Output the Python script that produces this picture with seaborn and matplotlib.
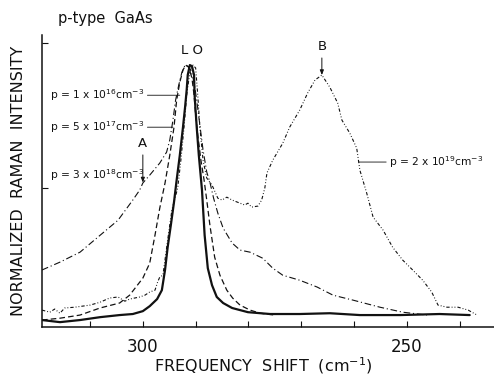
import matplotlib
matplotlib.use("Agg")
import matplotlib.pyplot as plt
import seaborn as sns
import numpy as np

# ---------------- data ----------------
# Raman shift (cm^-1) and normalized intensity for each hole concentration
p16_shift = [319.1, 315.7, 311.9, 308.1, 304.4, 301.9, 300.0, 298.7, 297.3, 296.4,
             295.8, 295.3, 294.7, 294.1, 293.6, 293.0, 292.4, 292.0, 291.7, 291.5,
             291.1, 290.7, 290.3, 290.2, 289.8, 289.4, 288.8, 288.3, 287.7, 286.9,
             286.0, 284.8, 283.1, 280.1, 275.9, 270.3, 264.6, 258.9, 251.3, 243.8, 238.1]
p16_int = [0.027, 0.019, 0.027, 0.038, 0.046, 0.050, 0.061, 0.080, 0.107, 0.141,
           0.218, 0.305, 0.389, 0.477, 0.561, 0.656, 0.763, 0.840, 0.905, 0.962,
           1.000, 0.996, 0.962, 0.885, 0.763, 0.656, 0.523, 0.351, 0.225, 0.160,
           0.115, 0.092, 0.073, 0.057, 0.050, 0.050, 0.053, 0.046, 0.046, 0.050, 0.046]

p17_shift = [319.1, 315.7, 311.9, 308.1, 304.4, 302.5, 300.0, 298.7, 297.7, 296.8,
             295.8, 294.9, 294.1, 293.6, 293.0, 292.4, 291.9, 291.3, 290.7, 290.3,
             290.0, 289.6, 289.0, 288.4, 287.9, 287.3, 286.4, 285.4, 284.1, 283.0,
             281.6, 279.7, 277.8, 275.0]
p17_int = [0.027, 0.034, 0.046, 0.073, 0.092, 0.122, 0.187, 0.244, 0.351, 0.454,
           0.550, 0.656, 0.763, 0.866, 0.935, 0.981, 1.000, 0.992, 0.950, 0.885,
           0.809, 0.733, 0.637, 0.561, 0.485, 0.389, 0.267, 0.198, 0.141, 0.111,
           0.084, 0.065, 0.053, 0.046]

p18_shift = [319.1, 315.7, 311.9, 307.6, 304.7, 301.9, 300.6, 300.0, 298.7, 296.8,
             295.5, 294.9, 294.3, 293.8, 293.2, 292.6, 292.0, 291.5, 290.9, 290.3,
             289.8, 289.2, 288.6, 287.9, 287.3, 286.6, 285.8, 284.8, 283.1, 281.6,
             279.7, 277.3, 275.4, 273.5, 270.3, 267.0, 264.0, 260.2, 255.1, 250.8, 246.2]
p18_int = [0.218, 0.248, 0.286, 0.359, 0.408, 0.485, 0.523, 0.550, 0.580, 0.626,
           0.668, 0.714, 0.790, 0.866, 0.924, 0.973, 1.000, 0.996, 0.981, 0.935,
           0.866, 0.771, 0.676, 0.592, 0.553, 0.492, 0.435, 0.378, 0.321, 0.294,
           0.286, 0.263, 0.225, 0.198, 0.179, 0.153, 0.122, 0.103, 0.076, 0.057, 0.046]

p19_shift = [319.1, 317.6, 316.7, 315.7, 314.8, 312.9, 310.0, 308.1, 307.2, 306.3,
             304.7, 303.4, 302.5, 300.6, 299.6, 298.7, 297.7, 297.2, 296.8, 296.2,
             295.3, 294.5, 293.4, 292.8, 292.2, 291.7, 291.1, 290.5, 290.0, 289.6,
             289.2, 288.6, 287.9, 286.9, 285.8, 285.0, 284.1, 283.1, 281.6, 280.7,
             280.1, 279.4, 278.2, 277.5, 276.9, 276.5, 275.4, 273.5, 272.2, 270.3,
             268.8, 267.4, 266.1, 264.6, 263.1, 262.3, 260.8, 259.5, 258.9, 257.6,
             256.4, 254.5, 252.7, 250.8, 248.9, 247.0, 245.3, 244.1, 242.4, 240.3,
             238.4, 236.7]
p19_int = [0.065, 0.057, 0.069, 0.053, 0.073, 0.076, 0.084, 0.095, 0.103, 0.111,
           0.115, 0.099, 0.107, 0.115, 0.122, 0.134, 0.141, 0.172, 0.191, 0.198,
           0.332, 0.447, 0.531, 0.637, 0.763, 0.885, 0.973, 1.000, 0.989, 0.885,
           0.763, 0.637, 0.569, 0.542, 0.492, 0.485, 0.496, 0.485, 0.473, 0.466,
           0.473, 0.458, 0.462, 0.485, 0.531, 0.588, 0.637, 0.702, 0.763, 0.828,
           0.893, 0.943, 0.962, 0.916, 0.855, 0.790, 0.740, 0.683, 0.599, 0.511,
           0.420, 0.370, 0.305, 0.256, 0.218, 0.179, 0.134, 0.084, 0.076, 0.076,
           0.065, 0.046]

labels = [r"p = 1 x 10$^{16}$cm$^{-3}$", r"p = 5 x 10$^{17}$cm$^{-3}$",
          r"p = 3 x 10$^{18}$cm$^{-3}$", r"p = 2 x 10$^{19}$cm$^{-3}$"]
major_ticks = [300, 250]
minor_ticks = [310, 290, 280, 270, 260, 240]
tick_labels = ["300", "250"]

# ---------------- figure ----------------
sns.set_theme(style="ticks")
plt.rcParams["font.family"] = ["DejaVu Sans"]

fig = plt.figure(figsize=(4.94, 3.76), dpi=100)
ax = fig.add_axes([0.085, 0.130, 0.915, 0.777])

ink = "#111111"
sns.lineplot(x=p16_shift, y=p16_int, ax=ax, color=ink, linewidth=1.6,
             sort=False, estimator=None)
sns.lineplot(x=p17_shift, y=p17_int, ax=ax, color=ink, linewidth=0.9,
             linestyle=(0, (4.5, 2.5)), sort=False, estimator=None)
sns.lineplot(x=p18_shift, y=p18_int, ax=ax, color=ink, linewidth=0.8,
             linestyle=(0, (6, 2.5, 1, 2.5)), sort=False, estimator=None)
sns.lineplot(x=p19_shift, y=p19_int, ax=ax, color=ink, linewidth=0.8,
             linestyle=(0, (3, 1.8, 0.8, 1.8, 0.8, 1.8)), sort=False, estimator=None)

ax.set_xlim(319.1, 233.5)
ax.set_ylim(0, 1.115)

sns.despine(ax=ax, top=True, right=True)
for s in ["left", "bottom"]:
    ax.spines[s].set_linewidth(1.1)
    ax.spines[s].set_color(ink)

ax.set_xticks(major_ticks)
ax.set_xticklabels(tick_labels, fontsize=12)
ax.set_xticks(minor_ticks, minor=True)
ax.tick_params(axis="x", which="both", direction="in", length=4, width=0.8,
               pad=8, colors=ink)
ax.set_yticks([0.53, 1.084])
ax.set_yticklabels([])
ax.tick_params(axis="y", which="both", direction="in", length=4, width=0.8, colors=ink)

ax.set_xlabel(r"FREQUENCY  SHIFT  (cm$^{-1}$)", fontsize=11.5, color=ink)
ax.xaxis.set_label_coords(0.489, -0.095)
ax.set_ylabel("NORMALIZED  RAMAN  INTENSITY", fontsize=11.5, color=ink)
ax.yaxis.set_label_coords(-0.035, 0.5)

# annotations
fig.text(58 / 494, 1 - 18 / 376, "p-type  GaAs", fontsize=10.5, color=ink,
         ha="left", va="center")
ax.annotate("L O", xy=(290.7, 1.03), ha="center", va="bottom", fontsize=9.5, color=ink)

lab_kw = dict(fontsize=7.7, color=ink, va="center", ha="left")
ax.annotate(labels[0], xy=(293.0, 0.885), xytext=(317.6, 0.885),
            arrowprops=dict(arrowstyle="-", color=ink, lw=0.6, shrinkA=0, shrinkB=0,
                            relpos=(1, 0.5)), **lab_kw)
ax.annotate(labels[1], xy=(294.3, 0.763), xytext=(317.6, 0.763),
            arrowprops=dict(arrowstyle="-", color=ink, lw=0.6, shrinkA=0, shrinkB=0,
                            relpos=(1, 0.5)), **lab_kw)
ax.annotate(labels[2], xy=(301.5, 0.58), xytext=(317.6, 0.58), **lab_kw)
ax.annotate("A", xy=(300.0, 0.552), xytext=(300.0, 0.675), ha="center", va="bottom",
            fontsize=9.5, color=ink,
            arrowprops=dict(arrowstyle="-|>,head_length=0.3,head_width=0.12",
                            color=ink, lw=0.7, shrinkA=1, shrinkB=0))
ax.annotate("B", xy=(266.1, 0.962), xytext=(266.1, 1.045), ha="center", va="bottom",
            fontsize=9.5, color=ink,
            arrowprops=dict(arrowstyle="-|>,head_length=0.3,head_width=0.12",
                            color=ink, lw=0.7, shrinkA=1, shrinkB=0))
ax.annotate(labels[3], xy=(259.1, 0.630), xytext=(253.3, 0.630),
            arrowprops=dict(arrowstyle="-", color=ink, lw=0.6, shrinkA=0, shrinkB=0,
                            relpos=(0, 0.5)), **lab_kw)

fig.savefig("out.png", dpi=100, facecolor="white")
